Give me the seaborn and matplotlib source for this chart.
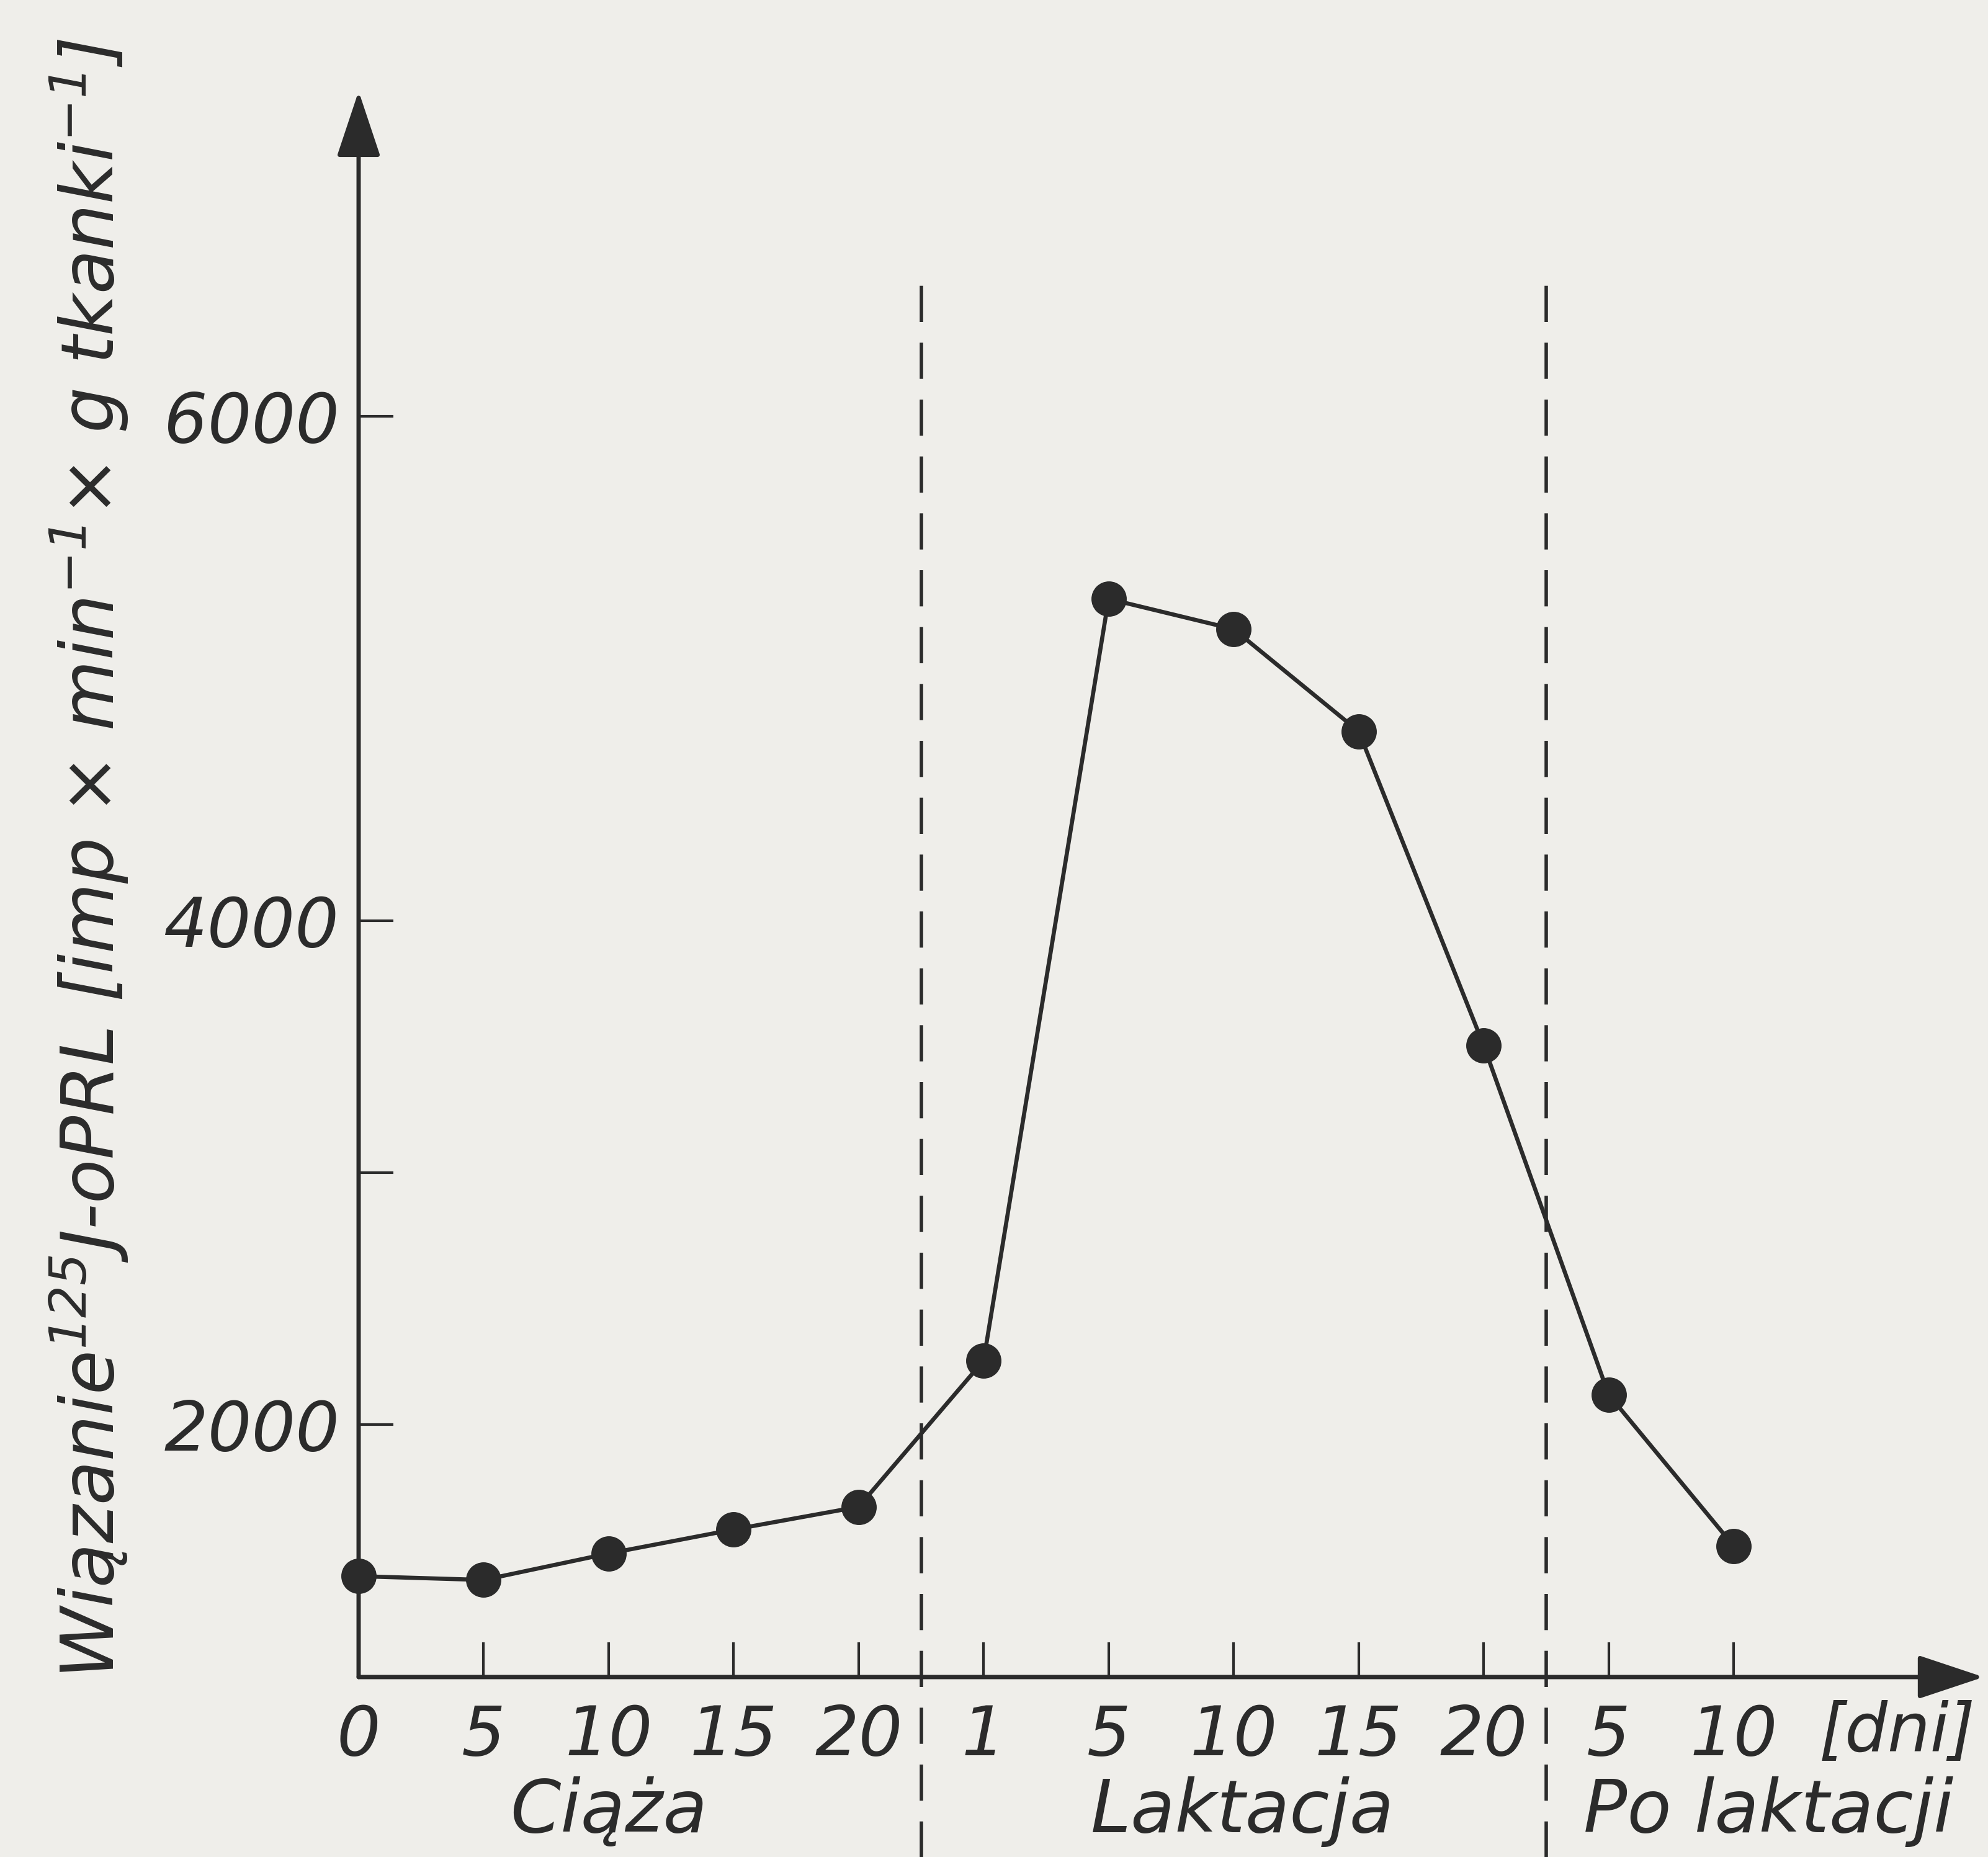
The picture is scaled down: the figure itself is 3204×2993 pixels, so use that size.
import numpy as np
import pandas as pd
import seaborn as sns
from matplotlib import pyplot as plt

# values
phase = ["Ciąża"] * 5 + ["Laktacja"] * 5 + ["Po laktacji"] * 2
day_labels = ["0", "5", "10", "15", "20", "1", "5", "10", "15", "20", "5", "10"]
binding = [1400, 1385, 1490, 1585, 1675, 2255, 5275, 5155, 4750, 3505, 2120, 1520]

y_ticks = [2000, 3000, 4000, 6000]
y_tick_labels = ["2000", "", "4000", "6000"]
phase_names = ["Ciąża", "Laktacja", "Po laktacji"]
phase_centers = [2.0, 7.07, 11.28]
phase_breaks = [4.5, 9.5]

ylabel = r"Wiązanie$^{125}$J-oPRL [imp × min$^{-1}$× g tkanki$^{-1}$]"

sns.set_style("ticks")
paper = "#efeeea"
ink = "#2b2b2b"
plt.rcParams["font.family"] = ["DejaVu Sans"]
plt.rcParams["font.style"] = "italic"
plt.rcParams["mathtext.fontset"] = "dejavusans"
plt.rcParams["mathtext.default"] = "it"
plt.rcParams["lines.scale_dashes"] = False

df = pd.DataFrame({"phase": phase, "day": day_labels, "value": binding})
df["pos"] = np.arange(len(df))

fig = plt.figure(figsize=(32.04, 29.93), dpi=100, facecolor=paper)
ax = fig.add_axes([0.1804, 0.0969, 0.8174, 0.854])
ax.set_facecolor(paper)

sns.lineplot(data=df, x="pos", y="value", ax=ax, color=ink, linewidth=4.8,
             marker="o", markersize=41, markeredgewidth=0, clip_on=False, zorder=4)

ax.set_xlim(0, 13.0)
ax.set_ylim(1000, 7288)
for s in ax.spines.values():
    s.set_visible(False)

# axes with arrow heads
arrow = dict(arrowstyle="-|>,head_length=0.66,head_width=0.22", mutation_scale=100,
             lw=5, color=ink, shrinkA=0, shrinkB=0)
ax.annotate("", xy=(1, 0), xytext=(0, 0), xycoords="axes fraction", arrowprops=arrow,
            annotation_clip=False)
ax.annotate("", xy=(0, 1), xytext=(0, 0), xycoords="axes fraction", arrowprops=arrow,
            annotation_clip=False)

# phase separators
ax.vlines(phase_breaks, ymin=250, ymax=6570, colors=ink, linewidth=4,
          linestyles=(0, (42, 24)), clip_on=False, zorder=2)

ax.set_xticks(df["pos"], df["day"])
ax.set_yticks(y_ticks, y_tick_labels)
ax.tick_params(direction="in", length=40, width=3, color=ink, labelsize=80,
               labelcolor=ink)
ax.tick_params(axis="x", pad=30)
ax.tick_params(axis="y", pad=22)

ax.set_xlabel("")
ax.set_ylabel(ylabel, fontsize=84, color=ink)
ax.yaxis.set_label_coords(-0.1405, 0.516)

for name, x in zip(phase_names, phase_centers):
    ax.text(x, -0.0978, name, transform=ax.get_xaxis_transform(), ha="center",
            va="baseline", fontsize=84, color=ink)
ax.text(12.31, -0.035, "[dni]", transform=ax.get_xaxis_transform(), ha="center",
        va="center", fontsize=78, color=ink)

fig.savefig("out.png", dpi=100, facecolor=paper)
